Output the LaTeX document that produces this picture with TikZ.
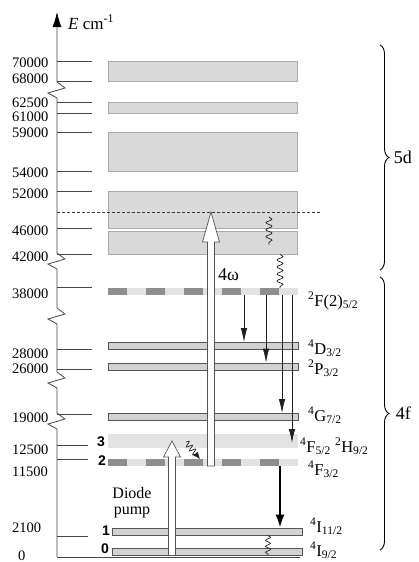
\documentclass[tikz,border=0pt]{standalone}
\usepackage{fontspec}
\setmainfont{Liberation Serif}
\newfontfamily\idxfont{Liberation Sans}
\usepackage{tikz}
\usetikzlibrary{arrows.meta,positioning,calc,decorations.pathmorphing,decorations.pathreplacing}
\definecolor{axisgray}{HTML}{474747}
\definecolor{bandfill}{HTML}{D9D9D9}
\definecolor{bandedge}{HTML}{ABABAB}
\definecolor{lvlfill}{HTML}{D2D2D2}
\definecolor{lvledge}{HTML}{555555}
\definecolor{stripedark}{HTML}{8E8E8E}
\definecolor{stripelight}{HTML}{E2E2E2}
\newcommand{\brk}[1]{-- (57,#1+16) -- (48,#1+11) -- (65,#1+6) -- (57,#1)}
\newcommand{\striped}[1]{\foreach \k in {0,...,4} {\fill[stripedark] ([xshift=38*\k]#1.south west) rectangle ([xshift=38*\k+19]#1.north west);}}
\newcommand{\hollowup}[5]{\draw[whitearrow] let \p1=(#1), \p2=(#2) in (\x1-#5pt,\y1) -- (\x1-#5pt,\y2-#3pt) -- (\x1-#4pt,\y2-#3pt) -- (\x1,\y2) -- (\x1+#4pt,\y2-#3pt) -- (\x1+#5pt,\y2-#3pt) -- (\x1+#5pt,\y1) -- cycle;}

\begin{document}
\begin{tikzpicture}[x=1pt,y=-1pt,font=\fontsize{14.5}{16}\selectfont,
  band/.style={rectangle,draw=bandedge,fill=bandfill,line width=0.5,minimum width=189,inner sep=0},
  lvl/.style={rectangle,draw=lvledge,fill=lvlfill,line width=0.8,minimum width=190,minimum height=7,inner sep=0},
  striplvl/.style={rectangle,fill=stripelight,minimum width=190,minimum height=6.5,inner sep=0},
  tickline/.style={axisgray,line width=0.8},
  decay/.style={gray!25!black,line width=0.8,-{Latex[length=14,width=6.5]}},
  laser/.style={black,line width=2,-{Latex[length=13,width=9]}},
  wavy/.style={gray!25!black,line width=0.7,decorate,decoration={snake,amplitude=3,segment length=7}},
  whitearrow/.style={draw=lvledge,fill=white,line width=0.7},
  term/.style={anchor=base west,inner sep=0,font=\fontsize{16.5}{19}\selectfont},
  idx/.style={inner sep=0,font=\idxfont\bfseries\fontsize{14}{16}\selectfont},
  shell/.style={line width=0.9,decorate,decoration={brace,amplitude=9}}]
  \useasboundingbox (0,0) rectangle (418,562);

  \foreach \n/\y/\h in {b7068/71/20, b6261/107.5/11, b5954/151.5/39, b5246/209.5/37, b4642/242.5/23}
    { \node[band,minimum height=\h] (\n) at (202.5,\y) {}; }

  \node[striplvl] (F2) at (203,291.5) {};
  \striped{F2}
  \node[lvl] (D32) at (203,346) {};
  \node[lvl] (P32) at (203,366.5) {};
  \node[lvl] (G72) at (203,417) {};
  \node[rectangle,fill=gray!22,minimum width=190,minimum height=14,inner sep=0] (F52) at (203,441) {};
  \node[striplvl] (F32) at (203,462.5) {};
  \striped{F32}
  \node[lvl] (I112) at (207,531.5) {};
  \node[lvl] (I92) at (207,551.5) {};

  \draw[tickline,-{Latex[length=15,width=9,color=black]}] (57,557) \brk{413} \brk{372} \brk{308} \brk{253} \brk{82} -- (57,12);
  \draw[tickline] (57,557) -- (300,557);
  \foreach \y/\b/\l/\e in {61/67/70000/92, 81/83/68000/92, 102/107/62500/92, 113/121.5/61000/92,
                           132/137/59000/92, 171/177/54000/92, 191/198/52000/92, 228/235/46000/92,
                           254/261/42000/92, 287/298/38000/92, 349/358/28000/92, 369/373/26000/92,
                           414/422/19000/92, 445/454/12500/88, 459/476/11500/88, 536/532/2100/88}
    { \draw[tickline] (57,\y) -- (\e,\y); \node[anchor=base west,inner sep=0] (t\l) at (12,\b) {\l}; }
  \node[anchor=base west,inner sep=0] (t0) at (18,560) {0};
  \node[anchor=base west,inner sep=0,font=\fontsize{17}{19}\selectfont] (elabel) at (68,29) {\textit{E} cm\textsuperscript{-1}};

  \foreach \n/\x/\y in {3/101/442, 2/102/461, 1/106/531, 0/105/549}
    { \node[idx] (n\n) at (\x,\y) {\n}; }

  \coordinate (virt) at (57,212);
  \coordinate (virtend) at (322,212);
  \draw[gray!45!black,line width=0.7,dash pattern=on 3pt off 2pt] (virt) -- (virtend);

  \foreach \n/\x in {xp/172, xo/211, xd1/244, xd2/266, xd3/282, xd4/292, xl/280,
                     xw1/269, xw2/280, xw3/268, xwa/186, xwb/200}
    { \coordinate (\n) at (\x,0); }

  \hollowup{xp |- I92.south}{xp |- F52.center}{16}{8.5}{3.5}
  \hollowup{xo |- F32.south}{xo |- virt}{30}{8.5}{3.5}

  \draw[decay] (F2.south -| xd1) -- (D32.north -| xd1);
  \draw[decay] (F2.south -| xd2) -- (P32.north -| xd2);
  \draw[decay] (F2.south -| xd3) -- (G72.north -| xd3);
  \draw[decay] (F2.south -| xd4) -- ($(F52.center -| xd4)+(0,2)$);
  \draw[laser] (F32.south -| xl) -- (I112.north -| xl);

  \draw[wavy] ($(xw1 |- virt)+(0,5)$) -- ($(xw1 |- b4642.center)+(0,2)$);
  \draw[wavy] (xw2 |- b4642.south) -- (xw2 |- F2.north);
  \draw[wavy,decoration={amplitude=2.5,segment length=6}] (xw3 |- I112.south) -- (xw3 |- I92.south);
  \draw[gray!25!black,line width=0.7,decorate,decoration={snake,amplitude=3,segment length=5,post length=5},-{Latex[length=7,width=6]}] ($(xwa |- F52.center)+(0,1)$) -- (xwb |- F32.north);

  \node[anchor=base west,inner sep=0,font=\fontsize{18}{20}\selectfont] (omega) at (218,280) {4ω};
  \node[anchor=base,inner sep=0,font=\fontsize{16}{18}\selectfont] (diode) at (132,498) {Diode};
  \node[anchor=base,inner sep=0,font=\fontsize{16}{18}\selectfont] (pump) at (132,514) {pump};

  \node[term] (tF2) at (308,306) {\textsuperscript{2}F(2)\textsubscript{5/2}};
  \node[term] (tD32) at (308,354) {\textsuperscript{4}D\textsubscript{3/2}};
  \node[term] (tP32) at (308,374) {\textsuperscript{2}P\textsubscript{3/2}};
  \node[term] (tG72) at (308,421) {\textsuperscript{4}G\textsubscript{7/2}};
  \node[term] (tF52) at (300,452) {\textsuperscript{4}F\textsubscript{5/2} \textsuperscript{2}H\textsubscript{9/2}};
  \node[term] (tF32) at (308,475) {\textsuperscript{4}F\textsubscript{3/2}};
  \node[term] (tI112) at (310,532) {\textsuperscript{4}I\textsubscript{11/2}};
  \node[term] (tI92) at (310,556) {\textsuperscript{4}I\textsubscript{9/2}};

  \draw[shell] (380,45) -- node[midway,anchor=west,xshift=10,font=\fontsize{18}{20}\selectfont] (l5d) {5d} (380,270);
  \draw[shell] (380,277) -- node[midway,anchor=west,xshift=12,font=\fontsize{18}{20}\selectfont] (l4f) {4f} (380,550);
\end{tikzpicture}
\end{document}
